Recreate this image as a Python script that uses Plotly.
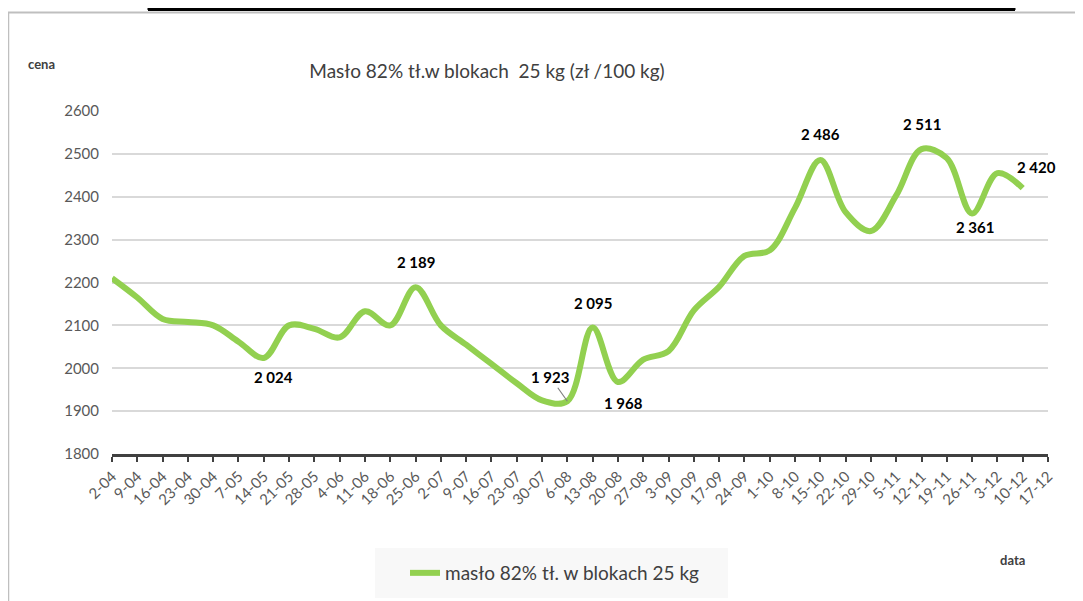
import plotly.graph_objects as go

# dane
daty = ["2-04", "9-04", "16-04", "23-04", "30-04", "7-05", "14-05", "21-05", "28-05",
        "4-06", "11-06", "18-06", "25-06", "2-07", "9-07", "16-07", "23-07", "30-07",
        "6-08", "13-08", "20-08", "27-08", "3-09", "10-09", "17-09", "24-09", "1-10",
        "8-10", "15-10", "22-10", "29-10", "5-11", "12-11", "19-11", "26-11", "3-12",
        "10-12", "17-12"]
ceny = [2210, 2165, 2115, 2108, 2100, 2062, 2024, 2100, 2092, 2072, 2133, 2100, 2189,
        2100, 2055, 2010, 1965, 1925, 1923, 2095, 1968, 2020, 2040, 2135, 2190, 2262,
        2275, 2374, 2486, 2364, 2320, 2403, 2511, 2490, 2361, 2455, 2420, None]

# etykiety danych: data -> przesunięcie (x, y) w pikselach
etykiety = {
    "14-05": (10, -19), "25-06": (0, 25), "6-08": (-17, 24), "13-08": (0, 25),
    "20-08": (6, -21), "15-10": (0, 26), "12-11": (0, 25), "26-11": (3, -14),
    "10-12": (14, 21),
}

ZIELONY = "#92D050"
SZARY = "#595959"
FONT = "Lato"

# strona ma margines 8 px, więc figura jest mniejsza o 8 px
OFF = 8
W, H = 1083 - OFF, 601 - OFF
# obszar wykresu we współrzędnych strony
L, R, T, B = 112, 1048, 111, 454


def px(x):
    return (x - L) / (R - L)


def py(y):
    return (B - y) / (B - T)


fig = go.Figure()
fig.add_trace(go.Scatter(
    x=daty, y=ceny, mode="lines", name="masło 82% tł. w blokach 25 kg",
    line=dict(color=ZIELONY, width=6, shape="spline", smoothing=1.0),
))

annotations = []
for d, (dx, dy) in etykiety.items():
    v = ceny[daty.index(d)]
    tekst = f"{v:,}".replace(",", " ")
    if d == "6-08":
        annotations.append(dict(x=d, y=v, xref="x", yref="y", text=tekst,
                                showarrow=True, arrowhead=0, arrowwidth=1.2,
                                arrowcolor="#808080", ax=dx, ay=-dy,
                                font=dict(family=FONT, size=15, color="black", weight="bold")))
    else:
        annotations.append(dict(x=d, y=v, xref="x", yref="y", text=tekst,
                                showarrow=False, xshift=dx, yshift=dy,
                                font=dict(family=FONT, size=15, color="black", weight="bold")))

annotations += [
    dict(x=px(41), y=py(64), xref="paper", yref="paper", text="cena", showarrow=False,
         xanchor="center", yanchor="middle",
         font=dict(family=FONT, size=13, color="#404040", weight="bold")),
    dict(x=px(1012), y=py(560), xref="paper", yref="paper", text="data", showarrow=False,
         xanchor="center", yanchor="middle",
         font=dict(family=FONT, size=13, color="#404040", weight="bold")),
]

shapes = [
    # tło legendy
    dict(type="rect", xref="paper", yref="paper", x0=px(375), x1=px(728), y0=py(548), y1=py(598),
         fillcolor="#f8f8f8", line=dict(width=0), layer="below"),
    # ramka wykresu
    dict(type="line", xref="paper", yref="paper", x0=px(0), x1=px(1083), y0=py(12.5), y1=py(12.5),
         line=dict(color="#bfbfbf", width=2)),
    dict(type="line", xref="paper", yref="paper", x0=px(8.5), x1=px(8.5), y0=py(12), y1=py(605),
         line=dict(color="#bfbfbf", width=1.5)),
    # fragment tabeli nad wykresem
    dict(type="line", xref="paper", yref="paper", x0=px(148), x1=px(1015), y0=py(9.5), y1=py(9.5),
         line=dict(color="black", width=3)),
]
for xd in (149, 500, 651, 801, 1014):
    shapes.append(dict(type="line", xref="paper", yref="paper", x0=px(xd), x1=px(xd),
                       y0=py(10), y1=py(0), line=dict(color="black", width=3)))

fig.update_layout(
    width=W, height=H,
    margin=dict(l=L - OFF, r=W - (R - OFF), t=T - OFF, b=H - (B - OFF), autoexpand=False),
    paper_bgcolor="white", plot_bgcolor="white",
    font=dict(family=FONT, color=SZARY),
    title=dict(text="Masło 82% tł.w blokach  25 kg (zł /100 kg)",
               x=(487 - OFF) / W, y=1 - (71 - OFF) / H,
               xanchor="center", yanchor="middle", xref="container", yref="container",
               font=dict(family=FONT, size=19, color="#404040")),
    xaxis=dict(type="category", categoryorder="array", categoryarray=daty, range=[0, 37],
               tickmode="array", tickvals=daty, ticktext=daty, tickangle=-45,
               ticks="outside", ticklen=5, tickwidth=2, tickcolor="#404040",
               showline=True, linecolor="#404040", linewidth=2.5, showgrid=False,
               automargin=False, tickfont=dict(family=FONT, size=15, color=SZARY)),
    yaxis=dict(range=[1800, 2600], dtick=100, showgrid=True, gridcolor="#d9d9d9", gridwidth=2,
               zeroline=False, showline=False, ticks="", ticklabelstandoff=12, automargin=False,
               tickfont=dict(family=FONT, size=15, color=SZARY)),
    showlegend=True,
    legend=dict(x=px(405), y=py(554), xanchor="left", yanchor="top",
                bgcolor="rgba(0,0,0,0)",
                font=dict(family=FONT, size=19, color="#404040")),
    annotations=annotations,
    shapes=shapes,
)

fig.write_html("out.html")
